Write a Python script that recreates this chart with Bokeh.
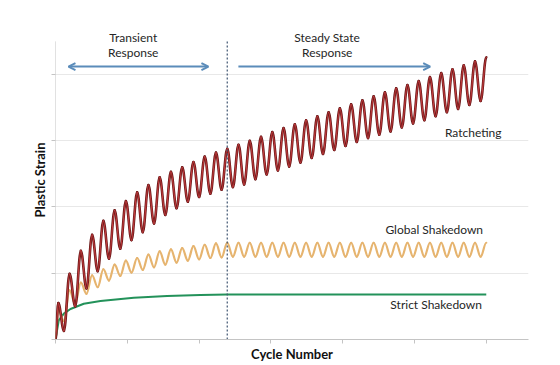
import numpy as np
from bokeh.plotting import figure
from bokeh.models import Label, Arrow, OpenHead, FixedTicker
from bokeh.embed import file_html
from bokeh.resources import INLINE

# ---------------- data ----------------
# Ratcheting: strain at each peak (cycle k + 0.25) and trough (cycle k + 0.75)
RATCHET_PEAKS = [0.55, 0.99, 1.34, 1.58, 1.79, 1.95, 2.09, 2.22, 2.33, 2.45,
                 2.53, 2.60, 2.68, 2.76, 2.82, 2.88, 2.94, 3.00, 3.06, 3.13,
                 3.19, 3.25, 3.31, 3.37, 3.43, 3.49, 3.55, 3.61, 3.67, 3.73,
                 3.79, 3.84, 3.90, 3.96, 4.02, 4.08, 4.14, 4.20, 4.26]
RATCHET_TROUGHS = [0.13, 0.50, 0.77, 1.03, 1.22, 1.37, 1.50, 1.62, 1.75, 1.88,
                   1.98, 2.08, 2.15, 2.20, 2.26, 2.30, 2.34, 2.42, 2.49, 2.55,
                   2.61, 2.67, 2.74, 2.80, 2.86, 2.92, 2.98, 3.04, 3.09, 3.14,
                   3.20, 3.26, 3.31, 3.37, 3.43, 3.48, 3.54, 3.60]
# Global shakedown: peaks and troughs
GLOBAL_PEAKS = [0.45, 0.74, 0.86, 0.97, 1.06, 1.13, 1.19, 1.23, 1.28, 1.33,
                1.36, 1.38, 1.41, 1.43, 1.45, 1.46, 1.46, 1.46, 1.46, 1.46,
                1.46, 1.46, 1.46, 1.46, 1.46, 1.46, 1.46, 1.46, 1.46, 1.46,
                1.46, 1.46, 1.46, 1.46, 1.46, 1.46, 1.46, 1.46, 1.46]
GLOBAL_TROUGHS = [0.28, 0.54, 0.69, 0.79, 0.89, 0.96, 1.01, 1.05, 1.09, 1.13,
                  1.16, 1.19, 1.21, 1.23, 1.24, 1.25, 1.25, 1.25, 1.25, 1.25,
                  1.25, 1.25, 1.25, 1.25, 1.25, 1.25, 1.25, 1.25, 1.25, 1.25,
                  1.25, 1.25, 1.25, 1.25, 1.25, 1.25, 1.25, 1.25]
# Strict shakedown
STRICT_CYCLES = [0, 0.29, 0.74, 1.33, 2.51, 3.99, 6.95, 9.91, 12.87, 15.23, 38.25]
STRICT_STRAIN = [0, 0.29, 0.39, 0.46, 0.54, 0.58, 0.63, 0.655, 0.67, 0.68, 0.68]

TRANSITION_CYCLE = 15.25
X_TICKS = [0, 6.375, 12.75, 19.125, 25.5, 31.875, 38.25]
Y_TICKS = [0, 1, 2, 3, 4]
AXIS_TOP = 4.5

# ---------------- styling ----------------
RED_DARK = "#6a1818"
RED = "#c03a3c"
ORANGE = "#e6b46f"
GREEN = "#23925a"
BLUE = "#5b8cba"
TEXT = "#262626"
AXIS = "#c4c4c4"
FONT = "Lato"
H = 0.364  # bezier handle fraction giving a half-cosine shape


def extrema(peaks, troughs):
    xs, ys = [0.0], [0.0]
    for k, pk in enumerate(peaks):
        xs.append(k + 0.25)
        ys.append(pk)
        if k < len(troughs):
            xs.append(k + 0.75)
            ys.append(troughs[k])
    return np.array(xs), np.array(ys)


def bez(xs, ys):
    x0, x1 = xs[:-1], xs[1:]
    y0, y1 = ys[:-1], ys[1:]
    d = x1 - x0
    return dict(x0=x0, y0=y0, x1=x1, y1=y1,
                cx0=x0 + H * d, cy0=y0, cx1=x1 - H * d, cy1=y1)


p = figure(width=560, height=365, x_range=(0, 42), y_range=(0, 4.815),
           output_backend="svg", toolbar_location=None,
           min_border_left=55, min_border_right=32, min_border_top=20,
           min_border_bottom=26)
p.outline_line_color = None
p.background_fill_color = "white"

p.xgrid.grid_line_color = None
p.ygrid.ticker = FixedTicker(ticks=Y_TICKS[1:])
p.ygrid.grid_line_color = "#e8e8e8"
p.ygrid.grid_line_width = 1

p.xaxis.ticker = FixedTicker(ticks=[], minor_ticks=X_TICKS)
p.yaxis.ticker = FixedTicker(ticks=[], minor_ticks=Y_TICKS)
for ax in (p.xaxis, p.yaxis):
    ax.axis_line_color = AXIS
    ax.major_tick_line_color = None
    ax.minor_tick_line_color = AXIS
    ax.minor_tick_in = 0
    ax.minor_tick_out = 4
    ax.axis_label_text_font = FONT
    ax.axis_label_text_font_style = "bold"
    ax.axis_label_text_font_size = "13px"
    ax.axis_label_text_color = "#111111"
p.yaxis.axis_line_color = None
p.xaxis.axis_label = "Cycle Number"
p.yaxis.axis_label = "Plastic Strain"
p.xaxis.axis_label_standoff = 2
p.yaxis.axis_label_standoff = 4

# left axis line (stops below the annotation band)
p.segment(x0=[0], y0=[0], x1=[0], y1=[AXIS_TOP], line_color=AXIS, line_width=1)

# strict shakedown
p.line(STRICT_CYCLES, STRICT_STRAIN, line_color=GREEN, line_width=2)

# global shakedown
gx, gy = extrema(GLOBAL_PEAKS, GLOBAL_TROUGHS)
p.bezier(**bez(gx, gy), line_color=ORANGE, line_width=2.2, line_cap="round")

# ratcheting (dark edge + red core)
rx, ry = extrema(RATCHET_PEAKS, RATCHET_TROUGHS)
p.bezier(**bez(rx, ry), line_color=RED_DARK, line_width=2.6, line_cap="round")
p.bezier(**bez(rx, ry), line_color=RED, line_width=1.2, line_cap="round")

# transition line
p.segment(x0=[TRANSITION_CYCLE], y0=[0], x1=[TRANSITION_CYCLE], y1=[AXIS_TOP],
          line_color="#3e5470", line_dash="2 2", line_width=1.2)

# arrows
p.add_layout(Arrow(start=OpenHead(size=7, line_color=BLUE, line_width=2),
                   end=OpenHead(size=7, line_color=BLUE, line_width=2),
                   x_start=1.15, y_start=4.12, x_end=13.58, y_end=4.12,
                   line_color=BLUE, line_width=2))
p.add_layout(Arrow(start=None,
                   end=OpenHead(size=7, line_color=BLUE, line_width=2),
                   x_start=16.24, y_start=4.12, x_end=33.27, y_end=4.12,
                   line_color=BLUE, line_width=2))


def lab(x, y, t):
    p.add_layout(Label(x=x, y=y, text=t, text_align="center",
                       text_baseline="middle", text_font=FONT,
                       text_font_size="12px", text_color=TEXT))


lab(6.9, 4.56, "Transient")
lab(6.9, 4.33, "Response")
lab(24.13, 4.56, "Steady State")
lab(24.13, 4.33, "Response")
lab(37.09, 3.12, "Ratcheting")
lab(33.63, 1.66, "Global Shakedown")
lab(33.8, 0.53, "Strict Shakedown")

open("out.html", "w").write(file_html(p, INLINE))
